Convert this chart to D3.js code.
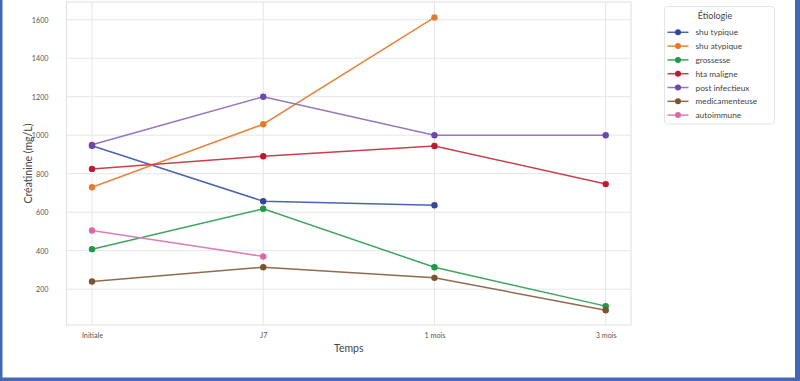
<!DOCTYPE html>
<html><head><meta charset="utf-8">
<script src="https://cdn.jsdelivr.net/npm/d3@7"></script>
<style>body{margin:0;background:#fff;}svg{display:block;font-family:Lato,"Open Sans",sans-serif;}</style>
</head><body>
<script>
const categories = ["Initiale", "J7", "1 mois", "3 mois"];
const seriesNames = ["shu typique", "shu atypique", "grossesse", "hta maligne", "post infectieux", "medicamenteuse", "autoimmune"];
const shuTypique = [945, 657, 636, null];
const shuAtypique = [730, 1057, 1612, null];
const grossesse = [408, 618, 314, 112];
const htaMaligne = [825, 891, 944, 746];
const postInfectieux = [950, 1200, 1000, 1000];
const medicamenteuse = [240, 314, 259, 91];
const autoimmune = [505, 370, null, null];
const yTicks = [200, 400, 600, 800, 1000, 1200, 1400, 1600];
const colors = ["#4a66b0", "#e8853f", "#3fa55c", "#c9404a", "#9477bd", "#8f6c4c", "#dd80b4"];
const markerColors = ["#33459c", "#e57a2a", "#1f9a45", "#c01830", "#6e48a8", "#7a5530", "#d86aa8"];

const values = [shuTypique, shuAtypique, grossesse, htaMaligne, postInfectieux, medicamenteuse, autoimmune];
(function () {
const W = 800, H = 381;
const svg = d3.select("body").append("svg").attr("width", W).attr("height", H);

const pLeft = 66.5, pRight = 631, pTop = 2, pBottom = 325;
const x = d3.scalePoint().domain(categories).range([92, 605.7]);
const y = d3.scaleLinear().domain([14, 1692]).range([pBottom, pTop]);

// grid
const g = svg.append("g");
g.selectAll(".hg").data(yTicks).join("line")
  .attr("x1", pLeft).attr("x2", pRight).attr("y1", d => y(d)).attr("y2", d => y(d))
  .attr("stroke", "#e6e6e6").attr("stroke-width", 1);
g.selectAll(".vg").data(categories).join("line")
  .attr("x1", d => x(d)).attr("x2", d => x(d)).attr("y1", pTop).attr("y2", pBottom)
  .attr("stroke", "#e6e6e6").attr("stroke-width", 1);
g.append("rect").attr("x", pLeft).attr("y", pTop).attr("width", pRight - pLeft).attr("height", pBottom - pTop)
  .attr("fill", "none").attr("stroke", "#e0e0e0").attr("stroke-width", 1);

// axes
const yAxis = d3.axisLeft(y).tickValues(yTicks).tickFormat(d3.format("d")).tickSize(0).tickPadding(18);
const ya = svg.append("g").attr("transform", `translate(${pLeft},0)`).call(yAxis);
ya.select(".domain").remove();
ya.selectAll("text").attr("font-size", 7.2).attr("fill", "#555").attr("font-family", "Lato, sans-serif");

const xAxis = d3.axisBottom(x).tickSize(0).tickPadding(8);
const xa = svg.append("g").attr("transform", `translate(0,${pBottom})`).call(xAxis);
xa.select(".domain").remove();
xa.selectAll("text").attr("font-size", 7.2).attr("fill", "#555").attr("font-family", "Lato, sans-serif");

svg.append("text").attr("x", (pLeft + pRight) / 2).attr("y", 352).attr("text-anchor", "middle")
  .attr("font-size", 10.5).attr("fill", "#444").text("Temps");
svg.append("text").attr("transform", `translate(32,${(pTop + pBottom) / 2}) rotate(-90)`).attr("text-anchor", "middle")
  .attr("font-size", 10.5).attr("fill", "#444").text("Créatinine (mg/L)");

// series
const line = d3.line().defined(d => d.v != null).x(d => x(d.c)).y(d => y(d.v));
values.forEach((vals, i) => {
  const pts = categories.map((c, j) => ({c, v: vals[j]}));
  svg.append("path").datum(pts).attr("d", line).attr("fill", "none")
    .attr("stroke", colors[i]).attr("stroke-width", 1.5);
  svg.append("g").selectAll("circle").data(pts.filter(d => d.v != null)).join("circle")
    .attr("cx", d => x(d.c)).attr("cy", d => y(d.v)).attr("r", 3.2).attr("fill", markerColors[i]);
});

// legend
const lg = svg.append("g");
lg.append("rect").attr("x", 664.5).attr("y", 6.5).attr("width", 110).attr("height", 117.5).attr("rx", 3)
  .attr("fill", "#fff").attr("stroke", "#e4e4e4");
lg.append("text").attr("x", 715).attr("y", 19).attr("text-anchor", "middle").attr("font-size", 9).attr("fill", "#444").text("Étiologie");
seriesNames.forEach((n, i) => {
  const yy = 32.3 + i * 13.8;
  lg.append("line").attr("x1", 667.5).attr("x2", 688.5).attr("y1", yy).attr("y2", yy).attr("stroke", colors[i]).attr("stroke-width", 1.5);
  lg.append("circle").attr("cx", 678).attr("cy", yy).attr("r", 3).attr("fill", markerColors[i]);
  lg.append("text").attr("x", 695.5).attr("y", yy + 3).attr("font-size", 8.3).attr("fill", "#444").text(n);
});

// blue frame
svg.append("rect").attr("x", 0).attr("y", 0).attr("width", 2.5).attr("height", H).attr("fill", "#4466b8");
svg.append("rect").attr("x", 795).attr("y", 0).attr("width", 5).attr("height", H).attr("fill", "#4466b8");
svg.append("rect").attr("x", 0).attr("y", 377.5).attr("width", W).attr("height", 3.5).attr("fill", "#4466b8");
})();
</script>
</body></html>
